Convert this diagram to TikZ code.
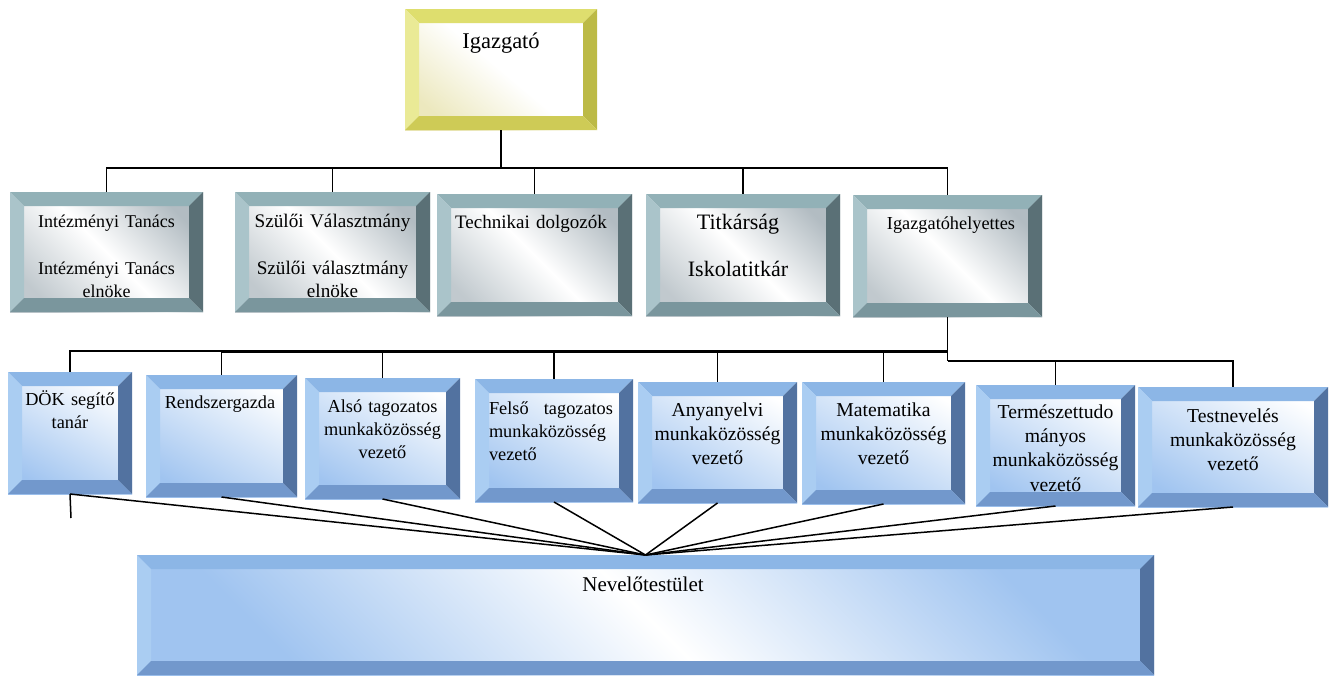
\documentclass[tikz,border=0pt]{standalone}
\usepackage{fontspec}
\setmainfont{Liberation Serif}
\usetikzlibrary{calc,fit}

% bevel colours: T top, L left, R right, B bottom, I inner
\definecolor{yelT}{RGB}{222,222,110}
\definecolor{yelL}{RGB}{234,234,150}
\definecolor{yelR}{RGB}{188,186,70}
\definecolor{yelB}{RGB}{206,203,86}
\definecolor{yelI}{RGB}{236,232,190}
\definecolor{grT}{RGB}{146,177,183}
\definecolor{grL}{RGB}{170,196,202}
\definecolor{grR}{RGB}{90,112,118}
\definecolor{grB}{RGB}{122,150,157}
\definecolor{grI}{RGB}{178,188,194}
\definecolor{blT}{RGB}{140,182,230}
\definecolor{blL}{RGB}{170,205,242}
\definecolor{blR}{RGB}{82,114,160}
\definecolor{blB}{RGB}{114,152,204}
\definecolor{blI}{RGB}{160,196,240}

\newcommand\bevw{14}
% frame of a bevelled box: node name, colour prefix
\newcommand\bevel[2]{%
  \fill[#2T] (#1.north west) -- (#1.north east) -- ($(#1.north east)+(-\bevw,\bevw)$) -- ($(#1.north west)+(\bevw,\bevw)$) -- cycle;
  \fill[#2L] (#1.north west) -- ($(#1.north west)+(\bevw,\bevw)$) -- ($(#1.south west)+(\bevw,-\bevw)$) -- (#1.south west) -- cycle;
  \fill[#2R] (#1.north east) -- (#1.south east) -- ($(#1.south east)+(-\bevw,-\bevw)$) -- ($(#1.north east)+(-\bevw,\bevw)$) -- cycle;
  \fill[#2B] (#1.south west) -- ($(#1.south west)+(\bevw,-\bevw)$) -- ($(#1.south east)+(-\bevw,-\bevw)$) -- (#1.south east) -- cycle;
}

\tikzset{
  box/.style={inner sep=0pt, outer sep=0pt},
  yelin/.style={top color=white, bottom color=yelI, middle color=white, shading angle=-40},
  grin/.style={top color=grI, bottom color=grI!80, middle color=white, shading angle=-45},
  blin/.style={top color=white, bottom color=blI, shading angle=-30},
  bigin/.style={top color=blI, bottom color=blI, middle color=white, shading angle=-45},
  lbl/.style={anchor=base, text width=180pt, align=center, inner sep=0pt,
    font=\fontsize{18.3}{23}\selectfont},
  lblbig/.style={lbl, font=\fontsize{19.7}{24}\selectfont},
  conn/.style={line width=1.5pt, black},
}

\begin{document}
\begin{tikzpicture}[x=1pt, y=-1pt]
\useasboundingbox (0,0) rectangle (1330,675);

% boxes
\node[box, yelin, fit={(405,9) (597,130)}] (igaz) {};
\node[box, grin, fit={(10,192) (203,312)}] (it) {};
\node[box, grin, fit={(235,192) (430,312)}] (szv) {};
\node[box, grin, fit={(437,194) (632,316)}] (tech) {};
\node[box, grin, fit={(646,194) (840,316)}] (titk) {};
\node[box, grin, fit={(853,195) (1042,317)}] (ih) {};
\node[box, blin, fit={(8,372) (132,494)}] (dok) {};
\node[box, blin, fit={(146,375) (297,497)}] (rg) {};
\node[box, blin, fit={(305,378) (460,499)}] (also) {};
\node[box, blin, fit={(475,379) (633,502)}] (felso) {};
\node[box, blin, fit={(638,382) (797,503)}] (anya) {};
\node[box, blin, fit={(802,382) (965,504)}] (mat) {};
\node[box, blin, fit={(976,385) (1135,506)}] (term) {};
\node[box, blin, fit={(1138,387) (1328,507)}] (test) {};
\node[box, bigin, fit={(137,555) (1154,675)}] (nev) {};

% texts
\node[lbl, font=\fontsize{22.5}{26}\selectfont] (igazT) at (501,48) {Igazgató};
\node[lbl, font=\fontsize{18}{23}\selectfont] (itT) at (106.5,227) {Intézményi Tanács\\[24pt]Intézményi Tanács\\elnöke};
\node[lbl, font=\fontsize{19.2}{23}\selectfont] (szvT) at (332.5,227) {Szülői Választmány\\[24pt]Szülői választmány\\elnöke};
\node[lbl, font=\fontsize{19}{23}\selectfont] (techT) at (531,228) {Technikai dolgozók};
\node[lbl, font=\fontsize{22}{23.5}\selectfont] (titkT) at (738,229) {Titkárság\\[23.5pt]Iskolatitkár};
\node[lbl] (ihT) at (951,229) {Igazgatóhelyettes};
\node[lbl] (dokT) at (70,405) {DÖK segítő\\tanár};
\node[lbl] (rgT) at (220,408) {Rendszergazda};
\node[lbl] (alsoT) at (382.5,412) {Alsó tagozatos\\munkaközösség\\vezető};
\node[lbl, text width=124pt, align=left] (felsoT) at (551,414) {Felső\hfill tagozatos\\munkaközösség\\vezető};
\node[lblbig] (anyaT) at (717.5,416) {Anyanyelvi\\munkaközösség\\vezető};
\node[lblbig] (matT) at (883.5,416) {Matematika\\munkaközösség\\vezető};
\node[lblbig, font=\fontsize{19.7}{24.4}\selectfont] (termT) at (1055.5,418) {Természettudo\\mányos\\munkaközösség\\vezető};
\node[lblbig] (testT) at (1233,422) {Testnevelés\\munkaközösség\\vezető};
\node[lbl, font=\fontsize{21}{26}\selectfont] (nevT) at (643,591) {Nevelőtestület};

% bevelled frames
\bevel{igaz}{yel}
\bevel{it}{gr}
\bevel{szv}{gr}
\bevel{tech}{gr}
\bevel{titk}{gr}
\bevel{ih}{gr}
\bevel{dok}{bl}
\bevel{rg}{bl}
\bevel{also}{bl}
\bevel{felso}{bl}
\bevel{anya}{bl}
\bevel{mat}{bl}
\bevel{term}{bl}
\bevel{test}{bl}
\bevel{nev}{bl}

% connectors
\draw[conn] (igaz.south) -- ++(0,38) coordinate (busA);
\foreach \b in {it,szv,tech,titk,ih}
  \draw[conn] (busA) -| (\b.north);

\coordinate (busB) at ($(ih.south)+(0,34)$);
\coordinate (busC) at ($(ih.south)+(0,44)$);
\draw[conn] (ih.south) -- (busC);
\foreach \b in {dok,rg,also,felso,anya,mat}
  \draw[conn] (busB) -| (\b.north);
\foreach \b in {term,test}
  \draw[conn] (busC) -| (\b.north);
\draw[conn, line width=3pt] (busB) -- (busB -| rg.north);

\coordinate (dokEnd) at (71,518);
\draw[conn] (dok.south) -- (dokEnd);
\foreach \b in {dok,rg,also,felso,anya,mat,term,test}
  \draw[conn] (\b.south) -- (nev.north);
\end{tikzpicture}
\end{document}
